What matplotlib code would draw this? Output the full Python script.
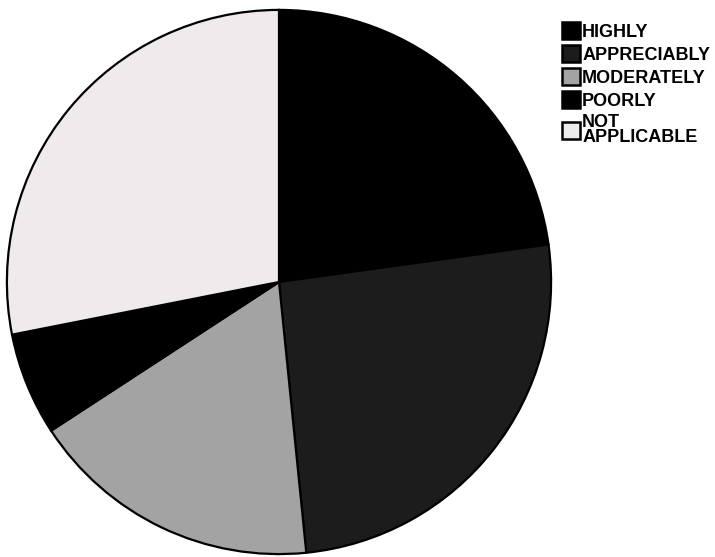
import matplotlib.pyplot as plt
from matplotlib.patches import Patch

labels = ['HIGHLY', 'APPRECIABLY', 'MODERATELY', 'POORLY', 'NOT\nAPPLICABLE']
shares = [22.8, 25.6, 17.4, 6.1, 28.1]
colors = ['#000000', '#1c1c1c', '#a3a3a3', '#000000', '#efebed']

fig = plt.figure(figsize=(7.15, 5.57), dpi=100)
fig.patch.set_facecolor('white')

# pie centre ~ (279, 282) px, radius ~ 272 px
r_px = 274
ax = fig.add_axes([(279 - r_px) / 715, (275 - r_px) / 557, 2 * r_px / 715, 2 * r_px / 557])
ax.pie(shares, colors=colors, startangle=90, counterclock=False, radius=1.0,
       wedgeprops=dict(edgecolor='black', linewidth=1.6))
ax.set_xlim(-1.007, 1.007)
ax.set_ylim(-1.007, 1.007)
ax.set_aspect('equal')
ax.axis('off')

handles = [Patch(facecolor=c, edgecolor='black', linewidth=1.8) for c in colors]
leg = fig.legend(handles, labels, loc='upper left', bbox_to_anchor=(555 / 715, 1 - 15 / 557),
                 frameon=False, handlelength=1.0, handleheight=1.05, handletextpad=0.1,
                 labelspacing=0.25, borderaxespad=0,
                 prop={'family': 'Liberation Sans', 'weight': 'bold', 'size': 13})
for t in leg.get_texts():
    t.set_linespacing(0.8)

fig.savefig('out.png', dpi=100, facecolor='white')
